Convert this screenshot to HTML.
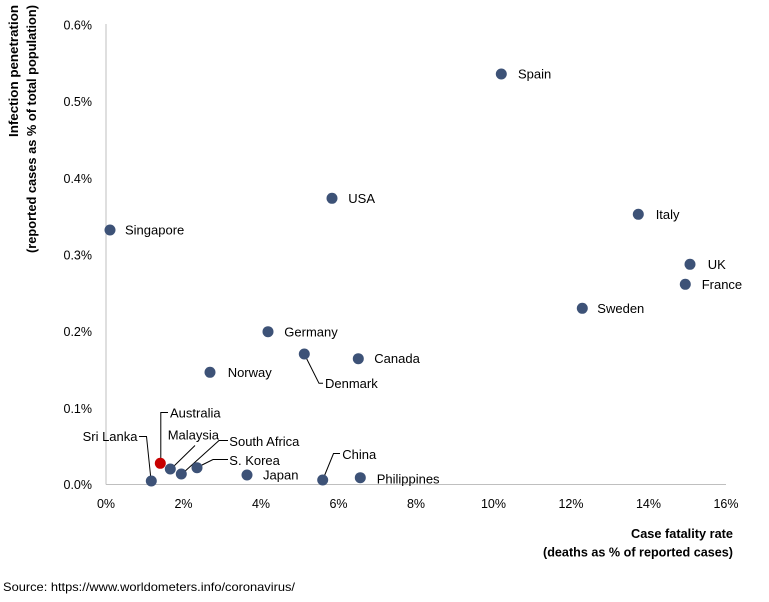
<!DOCTYPE html>
<html><head><meta charset="utf-8"><style>
html,body{margin:0;padding:0;background:#fff;}
svg{display:block;}
text{font-family:"Liberation Sans",Arial,sans-serif;fill:#000;}
.t{font-size:12.5px;}
.l{font-size:13px;}
</style></head><body>
<svg width="769" height="602" viewBox="0 0 769 602" xmlns="http://www.w3.org/2000/svg">
<rect width="769" height="602" fill="#fff"/>
<!-- axes -->
<line x1="106" y1="24" x2="106" y2="484.5" stroke="#bfbfbf" stroke-width="1"/>
<line x1="106" y1="484.5" x2="726" y2="484.5" stroke="#bfbfbf" stroke-width="1"/>
<!-- y ticks -->
<g class="t" text-anchor="end">
<text x="92" y="29.5">0.6%</text>
<text x="92" y="106.2">0.5%</text>
<text x="92" y="182.8">0.4%</text>
<text x="92" y="259.5">0.3%</text>
<text x="92" y="336.2">0.2%</text>
<text x="92" y="412.8">0.1%</text>
<text x="92" y="489">0.0%</text>
</g>
<!-- x ticks -->
<g class="t" text-anchor="middle">
<text x="106" y="508">0%</text>
<text x="183.5" y="508">2%</text>
<text x="261" y="508">4%</text>
<text x="338.5" y="508">6%</text>
<text x="416" y="508">8%</text>
<text x="493.5" y="508">10%</text>
<text x="571" y="508">12%</text>
<text x="648.5" y="508">14%</text>
<text x="726" y="508">16%</text>
</g>
<!-- axis titles -->
<text x="733" y="538" text-anchor="end" font-size="13" font-weight="bold" textLength="102" lengthAdjust="spacingAndGlyphs">Case fatality rate</text>
<text x="733" y="556.5" text-anchor="end" font-size="13" font-weight="bold" textLength="190" lengthAdjust="spacingAndGlyphs">(deaths as % of reported cases)</text>
<text transform="translate(18,5) rotate(-90)" text-anchor="end" font-size="13" font-weight="bold" textLength="132" lengthAdjust="spacingAndGlyphs">Infection penetration</text>
<text transform="translate(36,5) rotate(-90)" text-anchor="end" font-size="13" font-weight="bold" textLength="248" lengthAdjust="spacingAndGlyphs">(reported cases as % of total population)</text>
<!-- source -->
<text x="3" y="591" font-size="12" textLength="292" lengthAdjust="spacingAndGlyphs">Source: https://www.worldometers.info/coronavirus/</text>
<!-- leader lines -->
<g stroke="#000" stroke-width="1" fill="none">
<polyline points="304.3,354 319,383.3 323,383.3"/>
<polyline points="160.8,463 160.8,412.5 168,412.5"/>
<polyline points="139,436.5 146.5,436.5 151,480"/>
<polyline points="172,468 195,445.5"/>
<polyline points="183,473 219,440.5 228,440.5"/>
<polyline points="199,466.5 213,459.5 228,459.5"/>
<polyline points="322.7,480 333.5,453.5 340,453.5"/>
</g>
<!-- points -->
<g fill="#3d5277">
<circle cx="501.3" cy="74" r="5.5"/>
<circle cx="638.3" cy="214.3" r="5.5"/>
<circle cx="690" cy="264.3" r="5.5"/>
<circle cx="685.3" cy="284.3" r="5.5"/>
<circle cx="582.3" cy="308.3" r="5.5"/>
<circle cx="332" cy="198.3" r="5.5"/>
<circle cx="268" cy="331.7" r="5.5"/>
<circle cx="304.3" cy="354" r="5.5"/>
<circle cx="358.3" cy="358.7" r="5.5"/>
<circle cx="110" cy="230" r="5.5"/>
<circle cx="210" cy="372.3" r="5.5"/>
<circle cx="170.3" cy="469" r="5.5"/>
<circle cx="181.3" cy="474" r="5.5"/>
<circle cx="197" cy="467.7" r="5.5"/>
<circle cx="151.3" cy="481" r="5.5"/>
<circle cx="247" cy="475" r="5.5"/>
<circle cx="322.7" cy="480" r="5.5"/>
<circle cx="360.3" cy="477.7" r="5.5"/>
</g>
<circle cx="160.3" cy="463.3" r="5.5" fill="#c80000"/>
<!-- labels -->
<g class="l">
<text x="518" y="78.5">Spain</text>
<text x="655.7" y="218.8">Italy</text>
<text x="707.7" y="268.8">UK</text>
<text x="701.7" y="288.8">France</text>
<text x="597.3" y="312.8">Sweden</text>
<text x="348.3" y="202.8">USA</text>
<text x="284.3" y="336.5">Germany</text>
<text x="374.3" y="363.2">Canada</text>
<text x="325" y="387.8">Denmark</text>
<text x="125" y="234.5">Singapore</text>
<text x="227.7" y="376.8">Norway</text>
<text x="170" y="417.5">Australia</text>
<text x="137.5" y="441.2" text-anchor="end">Sri Lanka</text>
<text x="167.7" y="439.5">Malaysia</text>
<text x="229.3" y="446.2">South Africa</text>
<text x="229.3" y="465.2">S. Korea</text>
<text x="263" y="479.5">Japan</text>
<text x="342.3" y="458.8">China</text>
<text x="376.7" y="483.5">Philippines</text>
</g>
</svg>
</body></html>
